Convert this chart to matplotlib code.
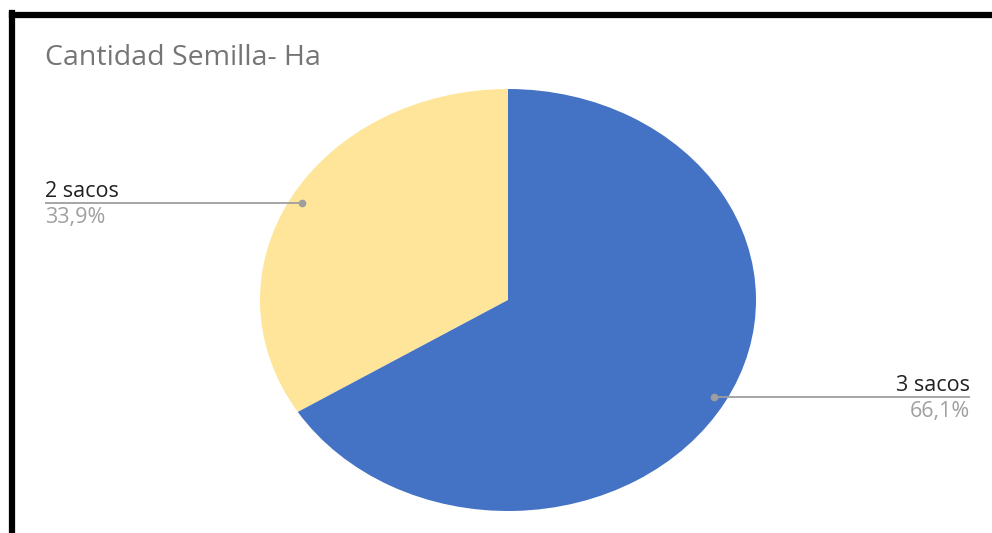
import matplotlib
matplotlib.use("Agg")
import matplotlib.pyplot as plt
from matplotlib.lines import Line2D

plt.rcParams['font.family'] = ['Open Sans', 'DejaVu Sans']

categorias = ['3 sacos', '2 sacos']
valores = [66.1, 33.9]
colores = ['#4472C4', '#FFE599']
titulo = 'Cantidad Semilla- Ha'

W, H = 992, 533
fig = plt.figure(figsize=(W / 100, H / 100), dpi=100)
ax = fig.add_axes([0, 0, 1, 1])

# pie centre at (508, 300) px, horizontal radius 248 px, vertical 211 px
cx, cy, rx, ry = 508, 300, 248, 211

# 2 sacos starts at 12 o'clock and goes counter-clockwise
ax.pie(valores[::-1], colors=colores[::-1], startangle=90, counterclock=True,
       radius=1, center=(0, 0), wedgeprops=dict(linewidth=0))

# pie() resets limits/aspect, so stretch the axes afterwards
ax.set_xlim((0 - cx) / rx, (W - cx) / rx)
ax.set_ylim((cy - H) / ry, cy / ry)
ax.set_aspect('auto')
ax.axis('off')


def px(x, y):
    return (x - cx) / rx, (cy - y) / ry


# leader lines and labels
etiquetas = [
    # (categoria, valor, punto, extremo linea, alineacion)
    (categorias[1], valores[1], (302, 203), (45, 203), 'left'),
    (categorias[0], valores[0], (714, 397), (970, 397), 'right'),
]
for cat, val, punto, fin, ha in etiquetas:
    x0, y0 = px(*punto)
    x1, y1 = px(*fin)
    ax.plot([x0, x1], [y0, y1], color='#9e9e9e', lw=1.3, solid_capstyle='butt')
    ax.plot([x0], [y0], 'o', color='#9e9e9e', ms=4.5)
    ax.text(x1, y1 + 1 / ry, cat, ha=ha, va='bottom', fontsize=15.5, color='#212121')
    ax.text(x1, y1 - 4 / ry, ('%.1f%%' % val).replace('.', ','), ha=ha, va='top',
            fontsize=15.5, color='#a0a0a0')

fig.text(45 / W, 1 - 58 / H, titulo, ha='left', va='center', fontsize=20.5,
         color='#757575')

# black frame on top and left edges
fig.add_artist(Line2D([12 / W, 1], [1 - 15 / H, 1 - 15 / H], color='black', lw=4.5,
                      transform=fig.transFigure))
fig.add_artist(Line2D([12 / W, 12 / W], [0, 1 - 13 / H], color='black', lw=4.5,
                      transform=fig.transFigure))

fig.savefig('out.png', dpi=100, facecolor='white')
